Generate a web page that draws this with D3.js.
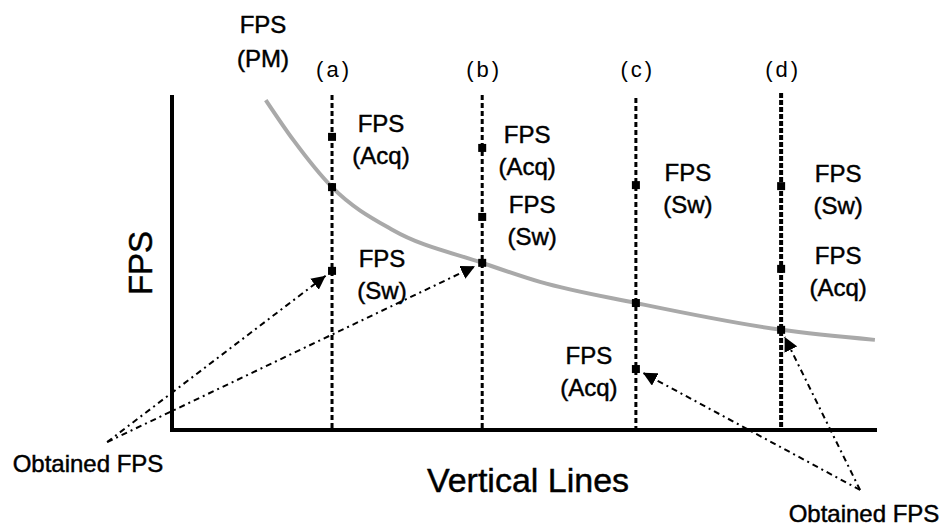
<!DOCTYPE html>
<html>
<head>
<meta charset="utf-8">
<script src="https://cdn.jsdelivr.net/npm/d3@7"></script>
<style>
  html, body { margin: 0; padding: 0; background: #fff; }
  svg text { font-family: "Liberation Sans", Arial, sans-serif; fill: #000; stroke: #000; stroke-width: 0.45px; }
  svg text.top { stroke: none; }
</style>
</head>
<body>
<svg id="chart" width="945" height="530"></svg>
<script>
// ---- data (abstract units) ----
const lineLabels = ["(a)", "(b)", "(c)", "(d)"];
const lineX      = [22.7, 44.0, 65.8, 86.4];
const fpsAcq     = [87.5, 84.2, 18.2, 48.1];
const fpsSw      = [47.5, 63.6, 73.1, 72.8];
const fpsPM      = [72.5, 49.9, 37.9, 29.9];
const curveX     = [13.3, 17.2, 22.7, 31.3, 44.0, 52.2, 65.8, 86.4, 99.7];
const curveY     = [98.5, 86.6, 72.5, 59.7, 49.9, 44.2, 37.9, 29.9, 26.9];

// ---- layout ----
const svg = d3.select("#chart");
const x = d3.scaleLinear().domain([0, 100]).range([172, 877]);
const y = d3.scaleLinear().domain([0, 100]).range([430, 95]);

// label horizontal offsets per line (Acq, Sw)
const acqDx = [49, 45, -47, 57];
const swDx  = [50, 50, 52, 57];

// vertical dashed lines
svg.selectAll("line.vline").data(lineX).join("line")
  .attr("class", "vline")
  .attr("x1", d => x(d)).attr("x2", d => x(d))
  .attr("y1", (d, i) => i === 2 ? 98 : (i === 3 ? 93 : 95))
  .attr("y2", y(0))
  .attr("stroke", "#000")
  .attr("stroke-width", (d, i) => i === 3 ? 4 : 3)
  .attr("stroke-dasharray", (d, i) => i === 3 ? "5,2" : "5,3");

// PM curve
const curvePts = curveX.map((v, i) => [v, curveY[i]]);
svg.append("path")
  .attr("d", d3.line().x(d => x(d[0])).y(d => y(d[1])).curve(d3.curveMonotoneX)(curvePts))
  .attr("fill", "none")
  .attr("stroke", "#a9a9a9")
  .attr("stroke-width", 4);

// axes (L shape)
const axisPath = d3.path();
axisPath.moveTo(x(0), y(100)); axisPath.lineTo(x(0), y(0)); axisPath.lineTo(x(100), y(0));
svg.append("path")
  .attr("d", axisPath.toString())
  .attr("fill", "none")
  .attr("stroke", "#000")
  .attr("stroke-width", 4);

// points
const pts = [];
lineX.forEach((lx, i) => {
  pts.push([lx, fpsAcq[i]]);
  pts.push([lx, fpsSw[i]]);
  pts.push([lx, fpsPM[i]]);
});
svg.selectAll("rect.pt").data(pts).join("rect")
  .attr("class", "pt")
  .attr("x", d => x(d[0]) - 4).attr("y", d => y(d[1]) - 4)
  .attr("width", 8).attr("height", 8)
  .attr("fill", "#000");

// two-line labels
function label(cx, by, second, size) {
  const g = svg.append("g");
  g.append("text").attr("x", cx).attr("y", by).attr("text-anchor", "middle")
    .attr("font-size", size).text("FPS");
  g.append("text").attr("x", cx).attr("y", by + 32).attr("text-anchor", "middle")
    .attr("font-size", size).text(second);
}
lineX.forEach((lx, i) => {
  label(x(lx) + acqDx[i], y(fpsAcq[i]) - 5, "(Acq)", 24);
  label(x(lx) + swDx[i], y(fpsSw[i]) - 4, "(Sw)", 24);
});

// top labels
svg.selectAll("text.top").data(lineLabels).join("text")
  .attr("class", "top")
  .attr("x", (d, i) => x(lineX[i]) + 2)
  .attr("y", 77)
  .attr("text-anchor", "middle")
  .attr("font-size", 22)
  .attr("letter-spacing", 3)
  .text(d => d);

// FPS (PM) label
svg.append("text").attr("x", 263).attr("y", 33).attr("text-anchor", "middle").attr("font-size", 24).text("FPS");
svg.append("text").attr("x", 263).attr("y", 67).attr("text-anchor", "middle").attr("font-size", 24).text("(PM)");

// axis titles
svg.append("text").attr("x", 528).attr("y", 492).attr("text-anchor", "middle").attr("font-size", 34).text("Vertical Lines");
svg.append("text").attr("transform", "translate(152,263) rotate(-90)").attr("text-anchor", "middle").attr("font-size", 33).text("FPS");

// "Obtained FPS" annotations
const obtained = lineX.map((lx, i) => [lx, Math.min(fpsAcq[i], fpsSw[i], fpsPM[i])]);
const annotations = [
  { origin: [-9.2, -3.6], targets: [0, 1], text: [88, 472] },
  { origin: [97.6, -17.9], targets: [2, 3], text: [864, 522] }
];
const defs = svg.append("defs");
defs.append("marker").attr("id", "arrow")
  .attr("viewBox", "0 0 10 10").attr("refX", 10).attr("refY", 5)
  .attr("markerWidth", 14).attr("markerHeight", 14)
  .attr("markerUnits", "userSpaceOnUse")
  .attr("orient", "auto")
  .append("path").attr("d", "M0,0 L10,5 L0,10 Z").attr("fill", "#000");

annotations.forEach(a => {
  const ox = x(a.origin[0]), oy = y(a.origin[1]);
  a.targets.forEach(t => {
    const tx = x(obtained[t][0]), ty = y(obtained[t][1]);
    const dx = tx - ox, dy = ty - oy, len = Math.hypot(dx, dy);
    const gap = 8;
    svg.append("line")
      .attr("x1", ox).attr("y1", oy)
      .attr("x2", tx - dx / len * gap).attr("y2", ty - dy / len * gap)
      .attr("stroke", "#000").attr("stroke-width", 2)
      .attr("stroke-dasharray", "6,4,2,4")
      .attr("marker-end", "url(#arrow)");
  });
  svg.append("text").attr("x", a.text[0]).attr("y", a.text[1])
    .attr("text-anchor", "middle").attr("font-size", 24).text("Obtained FPS");
});
</script>
</body>
</html>
